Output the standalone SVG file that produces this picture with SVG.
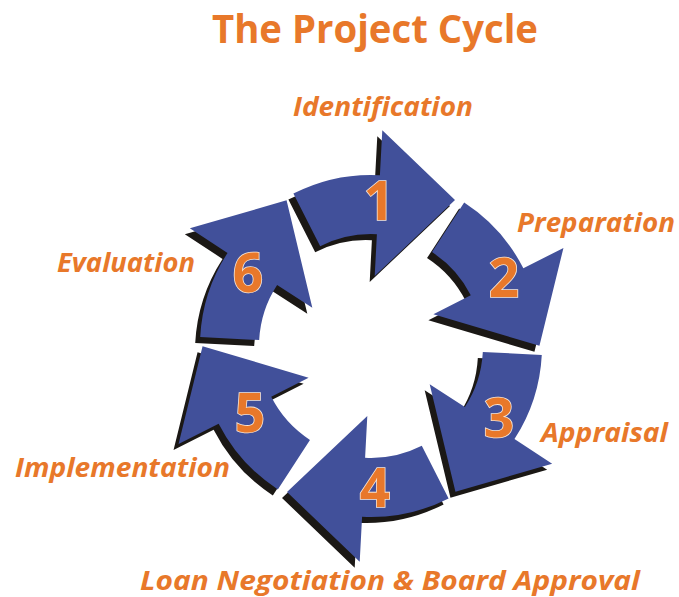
<svg xmlns="http://www.w3.org/2000/svg" xmlns:xlink="http://www.w3.org/1999/xlink" width="679" height="597" viewBox="0 0 679 597">
<style>
.arrow{fill:#41509A}
.shadow{fill:#1b1815}
.num{font-family:"Open Sans","Liberation Sans",sans-serif;font-weight:700;font-size:53px;fill:#E8782A;stroke:#f6e6d8;stroke-width:1.6;paint-order:stroke;text-anchor:middle}
.lbl{font-family:"Open Sans","Liberation Sans",sans-serif;font-weight:700;font-style:italic;font-size:27px;fill:#E8782A}
.title{font-family:"Open Sans","Liberation Sans",sans-serif;font-weight:700;font-size:40px;fill:#E8782A}
</style>
<defs>
<path id="arr" d="M -77.6,-152.4 A 171 171 0 0 1 8.9,-170.8 L 11.3,-215.7 L 84,-146 L 3.7,-69.9 L 5.9,-111.8 A 112 112 0 0 0 -50.8,-99.8 Z"/>
</defs>
<rect width="679" height="597" fill="#ffffff"/>
<text class="title" x="212" y="43" textLength="326" lengthAdjust="spacingAndGlyphs">The Project Cycle</text>
<g id="connectors"></g>
<g id="shadows" transform="translate(371,346)">
<use xlink:href="#arr" class="shadow" transform="translate(-5,6) rotate(0)"/>
<use xlink:href="#arr" class="shadow" transform="translate(-5,6) rotate(60)"/>
<use xlink:href="#arr" class="shadow" transform="translate(-5,6) rotate(120)"/>
<use xlink:href="#arr" class="shadow" transform="translate(-5,6) rotate(180)"/>
<use xlink:href="#arr" class="shadow" transform="translate(-5,6) rotate(240)"/>
<use xlink:href="#arr" class="shadow" transform="translate(-5,6) rotate(300)"/>
</g>
<g id="node1">
<use xlink:href="#arr" class="arrow" transform="translate(371,346) rotate(0)"/>
<text class="num" x="379" y="220">1</text>
<text class="lbl" x="293" y="116" textLength="180" lengthAdjust="spacingAndGlyphs">Identification</text>
</g>
<g id="node2">
<use xlink:href="#arr" class="arrow" transform="translate(371,346) rotate(60)"/>
<text class="num" x="504" y="297">2</text>
<text class="lbl" x="517" y="232" textLength="158" lengthAdjust="spacingAndGlyphs">Preparation</text>
</g>
<g id="node3">
<use xlink:href="#arr" class="arrow" transform="translate(371,346) rotate(120)"/>
<text class="num" x="499" y="437">3</text>
<text class="lbl" x="541" y="442" textLength="127" lengthAdjust="spacingAndGlyphs">Appraisal</text>
</g>
<g id="node4">
<use xlink:href="#arr" class="arrow" transform="translate(371,346) rotate(180)"/>
<text class="num" x="375" y="507">4</text>
<text class="lbl" x="140" y="590" textLength="500" lengthAdjust="spacingAndGlyphs">Loan Negotiation &amp; Board Approval</text>
</g>
<g id="node5">
<use xlink:href="#arr" class="arrow" transform="translate(371,346) rotate(240)"/>
<text class="num" x="250" y="432">5</text>
<text class="lbl" x="15" y="477" textLength="215" lengthAdjust="spacingAndGlyphs">Implementation</text>
</g>
<g id="node6">
<use xlink:href="#arr" class="arrow" transform="translate(371,346) rotate(300)"/>
<text class="num" x="248" y="292">6</text>
<text class="lbl" x="57" y="272" textLength="138" lengthAdjust="spacingAndGlyphs">Evaluation</text>
</g>
</svg>
